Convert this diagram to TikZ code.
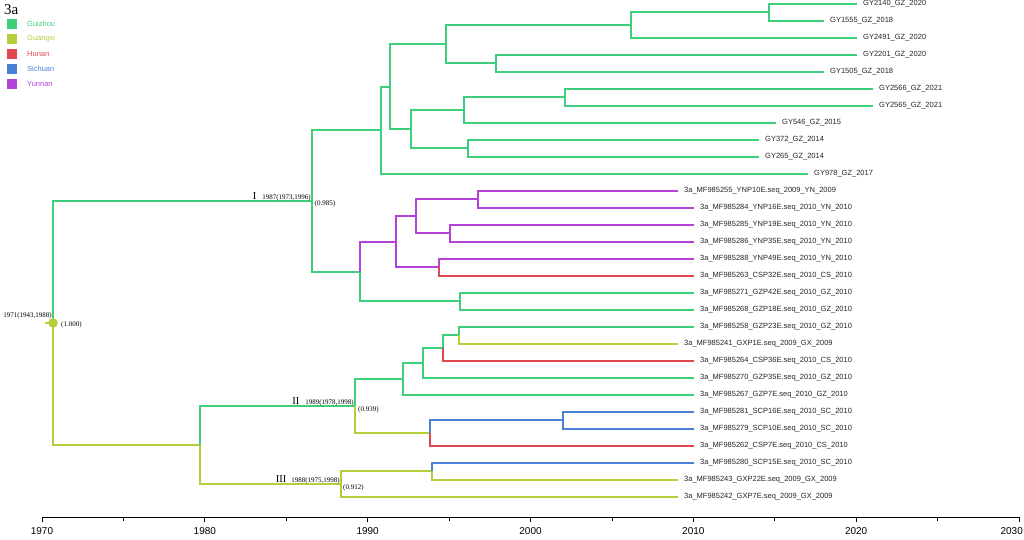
\documentclass[tikz,border=0pt]{standalone}
\usepackage{fontspec}
\setmainfont{Liberation Serif}
\setsansfont{Liberation Sans}
\definecolor{gz}{RGB}{62,207,124}
\definecolor{gx}{RGB}{183,205,60}
\definecolor{hn}{RGB}{222,72,78}
\definecolor{sc}{RGB}{74,128,214}
\definecolor{yn}{RGB}{178,66,216}
\begin{document}
\begin{tikzpicture}[x=1pt,y=-1pt,
  br/.style={line width=1.6pt},
  cgz/.style={br,draw=gz}, cgx/.style={br,draw=gx}, chn/.style={br,draw=hn},
  csc/.style={br,draw=sc}, cyn/.style={br,draw=yn},
  tiplab/.style={anchor=west,inner sep=0pt,font=\sffamily\fontsize{7.5}{8}\selectfont,text=black!85},
  datelab/.style={anchor=base east,inner sep=0pt,font=\fontsize{7}{8}\selectfont},
  pplab/.style={anchor=base west,inner sep=0pt,font=\fontsize{7}{8}\selectfont},
  leglab/.style={anchor=west,inner sep=0pt,font=\sffamily\fontsize{7.5}{8}\selectfont},
  legsq/.style={minimum size=10pt,inner sep=0pt},
  yearlab/.style={inner sep=0pt,font=\sffamily\fontsize{10}{10}\selectfont}]
\useasboundingbox (0,0) rectangle (1024,540);
% legend
\node[anchor=base west,inner sep=0pt,font=\fontsize{15}{15}\selectfont] (title) at (4,15) {3a};
\node[legsq,fill=gz] (s1) at (12,24) {}; \node[leglab,text=gz] (g1) at (27,24) {Guizhou};
\node[legsq,fill=gx] (s2) at (12,39) {}; \node[leglab,text=gx] (g2) at (27,39) {Guangxi};
\node[legsq,fill=hn] (s3) at (12,54) {}; \node[leglab,text=hn] (g3) at (27,54) {Hunan};
\node[legsq,fill=sc] (s4) at (12,69) {}; \node[leglab,text=sc] (g4) at (27,69) {Sichuan};
\node[legsq,fill=yn] (s5) at (12,84) {}; \node[leglab,text=yn] (g5) at (27,84) {Yunnan};
% internal nodes
\coordinate (root) at (53,323);
\coordinate (rootstem) at (45,323);
\coordinate (cI) at (312,201);
\coordinate (B) at (200,445);
\coordinate (cII) at (355,406);
\coordinate (cIII) at (341,484);
\coordinate (n1) at (381,130);
\coordinate (n2) at (360,272);
\coordinate (n3) at (390,87);
\coordinate (n4) at (446,44);
\coordinate (n5) at (411,129);
\coordinate (n6) at (631,25);
\coordinate (n7) at (496,63);
\coordinate (n8) at (769,12);
\coordinate (n9) at (464,110);
\coordinate (n10) at (468,148);
\coordinate (n11) at (565,97);
\coordinate (n12) at (396,242);
\coordinate (n13) at (460,301);
\coordinate (n14) at (416,216);
\coordinate (n15) at (439,267);
\coordinate (n16) at (478,199);
\coordinate (n17) at (450,233);
\coordinate (n18) at (403,379);
\coordinate (n19) at (430,433);
\coordinate (n20) at (423,363);
\coordinate (n21) at (443,348);
\coordinate (n22) at (459,335);
\coordinate (n23) at (563,420);
\coordinate (n24) at (432,471);
% tips
\coordinate (t0) at (857,4);     \node[tiplab] (l0) at (863,4) {GY2140\_GZ\_2020};
\coordinate (t1) at (824,21);  \node[tiplab] (l1) at (830,21) {GY1555\_GZ\_2018};
\coordinate (t2) at (857,38);    \node[tiplab] (l2) at (863,38) {GY2491\_GZ\_2020};
\coordinate (t3) at (857,55);    \node[tiplab] (l3) at (863,55) {GY2201\_GZ\_2020};
\coordinate (t4) at (824,72);  \node[tiplab] (l4) at (830,72) {GY1505\_GZ\_2018};
\coordinate (t5) at (873,89);  \node[tiplab] (l5) at (879,89) {GY2566\_GZ\_2021};
\coordinate (t6) at (873,106); \node[tiplab] (l6) at (879,106) {GY2565\_GZ\_2021};
\coordinate (t7) at (776,123); \node[tiplab] (l7) at (782,123) {GY546\_GZ\_2015};
\coordinate (t8) at (759,140); \node[tiplab] (l8) at (765,140) {GY372\_GZ\_2014};
\coordinate (t9) at (759,157); \node[tiplab] (l9) at (765,157) {GY265\_GZ\_2014};
\coordinate (t10) at (808,174); \node[tiplab] (l10) at (814,174) {GY978\_GZ\_2017};
\coordinate (t11) at (678,191); \node[tiplab] (l11) at (684,191) {3a\_MF985255\_YNP10E.seq\_2009\_YN\_2009};
\coordinate (t12) at (694,208); \node[tiplab] (l12) at (700,208) {3a\_MF985284\_YNP16E.seq\_2010\_YN\_2010};
\coordinate (t13) at (694,225); \node[tiplab] (l13) at (700,225) {3a\_MF985285\_YNP19E.seq\_2010\_YN\_2010};
\coordinate (t14) at (694,242); \node[tiplab] (l14) at (700,242) {3a\_MF985286\_YNP35E.seq\_2010\_YN\_2010};
\coordinate (t15) at (694,259); \node[tiplab] (l15) at (700,259) {3a\_MF985288\_YNP49E.seq\_2010\_YN\_2010};
\coordinate (t16) at (694,276); \node[tiplab] (l16) at (700,276) {3a\_MF985263\_CSP32E.seq\_2010\_CS\_2010};
\coordinate (t17) at (694,293); \node[tiplab] (l17) at (700,293) {3a\_MF985271\_GZP42E.seq\_2010\_GZ\_2010};
\coordinate (t18) at (694,310); \node[tiplab] (l18) at (700,310) {3a\_MF985268\_GZP18E.seq\_2010\_GZ\_2010};
\coordinate (t19) at (694,327); \node[tiplab] (l19) at (700,327) {3a\_MF985258\_GZP23E.seq\_2010\_GZ\_2010};
\coordinate (t20) at (678,344); \node[tiplab] (l20) at (684,344) {3a\_MF985241\_GXP1E.seq\_2009\_GX\_2009};
\coordinate (t21) at (694,361); \node[tiplab] (l21) at (700,361) {3a\_MF985264\_CSP36E.seq\_2010\_CS\_2010};
\coordinate (t22) at (694,378); \node[tiplab] (l22) at (700,378) {3a\_MF985270\_GZP35E.seq\_2010\_GZ\_2010};
\coordinate (t23) at (694,395); \node[tiplab] (l23) at (700,395) {3a\_MF985267\_GZP7E.seq\_2010\_GZ\_2010};
\coordinate (t24) at (694,412); \node[tiplab] (l24) at (700,412) {3a\_MF985281\_SCP16E.seq\_2010\_SC\_2010};
\coordinate (t25) at (694,429); \node[tiplab] (l25) at (700,429) {3a\_MF985279\_SCP10E.seq\_2010\_SC\_2010};
\coordinate (t26) at (694,446); \node[tiplab] (l26) at (700,446) {3a\_MF985262\_CSP7E.seq\_2010\_CS\_2010};
\coordinate (t27) at (694,463); \node[tiplab] (l27) at (700,463) {3a\_MF985280\_SCP15E.seq\_2010\_SC\_2010};
\coordinate (t28) at (678,480); \node[tiplab] (l28) at (684,480) {3a\_MF985243\_GXP22E.seq\_2009\_GX\_2009};
\coordinate (t29) at (678,497); \node[tiplab] (l29) at (684,497) {3a\_MF985242\_GXP7E.seq\_2009\_GX\_2009};
% branches
\draw[cgx] (rootstem) -- (root);
\draw[cgz] (root) |- (cI);
\draw[cgx] (root) |- (B);
\draw[cgz] (B) |- (cII);
\draw[cgx] (B) |- (cIII);
\draw[cgz] (cI) |- (n1);
\draw[cgz] (cI) |- (n2);
\draw[cgz] (n1) |- (n3);
\draw[cgz] (n1) |- (t10);
\draw[cgz] (n3) |- (n4);
\draw[cgz] (n3) |- (n5);
\draw[cgz] (n4) |- (n6);
\draw[cgz] (n4) |- (n7);
\draw[cgz] (n6) |- (n8);
\draw[cgz] (n6) |- (t2);
\draw[cgz] (n8) |- (t0);
\draw[cgz] (n8) |- (t1);
\draw[cgz] (n7) |- (t3);
\draw[cgz] (n7) |- (t4);
\draw[cgz] (n5) |- (n9);
\draw[cgz] (n5) |- (n10);
\draw[cgz] (n9) |- (n11);
\draw[cgz] (n9) |- (t7);
\draw[cgz] (n11) |- (t5);
\draw[cgz] (n11) |- (t6);
\draw[cgz] (n10) |- (t8);
\draw[cgz] (n10) |- (t9);
\draw[cyn] (n2) |- (n12);
\draw[cgz] (n2) |- (n13);
\draw[cyn] (n12) |- (n14);
\draw[cyn] (n12) |- (n15);
\draw[cyn] (n14) |- (n16);
\draw[cyn] (n14) |- (n17);
\draw[cyn] (n16) |- (t11);
\draw[cyn] (n16) |- (t12);
\draw[cyn] (n17) |- (t13);
\draw[cyn] (n17) |- (t14);
\draw[cyn] (n15) |- (t15);
\draw[chn] (n15) |- (t16);
\draw[cgz] (n13) |- (t17);
\draw[cgz] (n13) |- (t18);
\draw[cgz] (cII) |- (n18);
\draw[cgx] (cII) |- (n19);
\draw[cgz] (n18) |- (n20);
\draw[cgz] (n18) |- (t23);
\draw[cgz] (n20) |- (n21);
\draw[cgz] (n20) |- (t22);
\draw[cgz] (n21) |- (n22);
\draw[chn] (n21) |- (t21);
\draw[cgz] (n22) |- (t19);
\draw[cgx] (n22) |- (t20);
\draw[csc] (n19) |- (n23);
\draw[chn] (n19) |- (t26);
\draw[csc] (n23) |- (t24);
\draw[csc] (n23) |- (t25);
\draw[cgx] (cIII) |- (n24);
\draw[cgx] (cIII) |- (t29);
\draw[csc] (n24) |- (t27);
\draw[cgx] (n24) |- (t28);
\fill[gx] (root) circle (4.8);
% node labels
\node[datelab] (rl) at (52,317) {1971(1943,1988)};
\node[pplab] (rp) at (61,326.5) {(1.000)};
\node[datelab] (Il) at (311,199) {{\fontsize{10.5}{10}\selectfont I}\hspace{6pt}1987(1973,1996)};
\node[pplab] (Ip) at (314.5,205) {(0.985)};
\node[datelab] (IIl) at (354,404) {{\fontsize{10.5}{10}\selectfont II}\hspace{6pt}1989(1978,1998)};
\node[pplab] (IIp) at (358,411) {(0.939)};
\node[datelab] (IIIl) at (340,482) {{\fontsize{10.5}{10}\selectfont III}\hspace{5pt}1988(1975,1998)};
\node[pplab] (IIIp) at (343,489) {(0.912)};
% axis
\coordinate (ax0) at (42,517);
\coordinate (ax1) at (1019,517);
\draw[line width=1pt] (ax0) -- (ax1);
\foreach \k in {0,...,12}{
  \pgfmathsetmacro{\xx}{42+\k*81.417}
  \draw[line width=0.8pt] (\xx,517) -- (\xx,521);
}
\foreach \k/\yr in {0/1970,1/1980,2/1990,3/2000,4/2010,5/2020}{
  \pgfmathsetmacro{\xx}{42+\k*162.833}
  \draw[line width=0.8pt] (\xx,517) -- (\xx,522);
  \node[yearlab] (y\yr) at (\xx,531.5) {\yr};
}
\draw[line width=0.8pt] (1019,517) -- (1019,522);
\node[yearlab,anchor=east] (y2030) at (1023,531.5) {2030};
\end{tikzpicture}
\end{document}
